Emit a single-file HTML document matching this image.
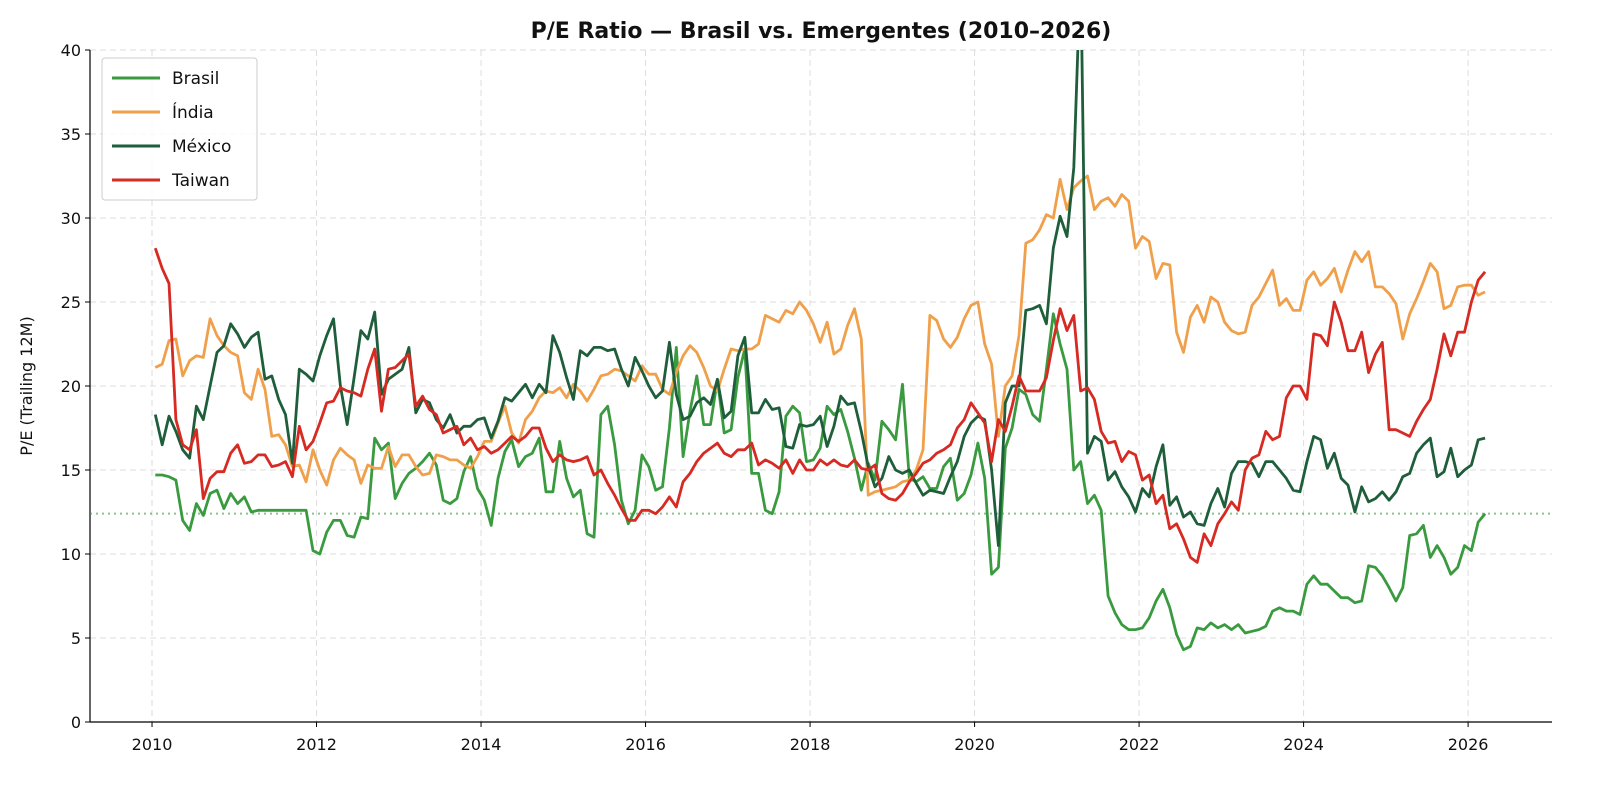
<!DOCTYPE html>
<html><head><meta charset="utf-8"><style>
body{margin:0;background:#fff;font-family:"Liberation Sans","DejaVu Sans",sans-serif}
svg text{font-family:"DejaVu Sans","Liberation Sans",sans-serif}
</style></head><body>
<svg id="chart" width="1600" height="792" xmlns="http://www.w3.org/2000/svg">
<defs><clipPath id="plotclip"><rect x="90" y="50" width="1462" height="672"/></clipPath></defs>
<text x="821" y="38" text-anchor="middle" font-size="22" font-weight="bold" fill="#111">P/E Ratio — Brasil vs. Emergentes (2010–2026)</text>
<text transform="translate(32,386) rotate(-90)" text-anchor="middle" font-size="16" fill="#111">P/E (Trailing 12M)</text>
<g id="grid"></g><g id="axes"></g><g id="series" clip-path="url(#plotclip)"></g>
<g>
<rect x="102" y="58" width="155" height="142" rx="3" fill="#fff" fill-opacity="0.85" stroke="#ccc"/>
<g><line x1="112" y1="78" x2="160" y2="78" stroke="#3a9a3f" stroke-width="3"/><text x="172" y="84" font-size="17" fill="#111">Brasil</text></g>
<g><line x1="112" y1="112" x2="160" y2="112" stroke="#f0a04b" stroke-width="3"/><text x="172" y="118" font-size="17" fill="#111">Índia</text></g>
<g><line x1="112" y1="146" x2="160" y2="146" stroke="#1e5e3b" stroke-width="3"/><text x="172" y="152" font-size="17" fill="#111">México</text></g>
<g><line x1="112" y1="180" x2="160" y2="180" stroke="#d62a22" stroke-width="3"/><text x="172" y="186" font-size="17" fill="#111">Taiwan</text></g>
</g>
</svg>
<script>
const startYear = 2010.04;
const xTicks = [2010,2012,2014,2016,2018,2020,2022,2024,2026];
const yTicks = [0,5,10,15,20,25,30,35,40];
const brasilRef = [12.4];
const brasil = [14.7,14.7,14.6,14.4,12,11.4,13,12.3,13.6,13.8,12.7,13.6,
13,13.4,12.5,12.6,12.6,12.6,12.6,12.6,12.6,12.6,12.6,10.2,
10,11.3,12,12,11.1,11,12.2,12.1,16.9,16.2,16.6,13.3,
14.2,14.8,15.1,15.5,16,15.3,13.2,13,13.3,14.9,15.8,13.9,
13.2,11.7,14.5,16.1,16.8,15.2,15.8,16,16.9,13.7,13.7,16.7,
14.5,13.4,13.8,11.2,11,18.3,18.8,16.5,13.2,11.8,12.6,15.9,
15.2,13.8,14,17.5,22.3,15.8,18.5,20.6,17.7,17.7,20.4,17.2,
17.4,20.5,22.2,14.8,14.8,12.6,12.4,13.7,18.2,18.8,18.4,15.5,
15.6,16.3,18.8,18.3,18.6,17.3,15.7,13.8,15.4,14.4,17.9,17.4,
16.8,20.1,14.5,14.3,14.6,13.9,13.9,15.2,15.7,13.2,13.6,14.7,
16.6,14.5,8.8,9.2,16.3,17.5,19.8,19.5,18.3,17.9,21,24.3,
22.5,21,15,15.5,13,13.5,12.6,7.5,6.5,5.8,5.5,5.5,
5.6,6.2,7.2,7.9,6.8,5.2,4.3,4.5,5.6,5.5,5.9,5.6,
5.8,5.5,5.8,5.3,5.4,5.5,5.7,6.6,6.8,6.6,6.6,6.4,
8.2,8.7,8.2,8.2,7.8,7.4,7.4,7.1,7.2,9.3,9.2,8.7,
8,7.2,8,11.1,11.2,11.7,9.8,10.5,9.8,8.8,9.2,10.5,
10.2,11.9,12.4];
const india = [21.1,21.3,22.7,22.8,20.6,21.5,21.8,21.7,24,23,22.4,22,
21.8,19.6,19.2,21,19.8,17,17.1,16.5,15.2,15.3,14.3,16.2,
15,14.1,15.6,16.3,15.9,15.6,14.2,15.3,15.1,15.1,16.4,15.2,
15.9,15.9,15.2,14.7,14.8,15.9,15.8,15.6,15.6,15.3,15.1,15.8,
16.7,16.7,17.8,18.8,17.2,16.6,18,18.5,19.3,19.7,19.6,19.9,
19.3,20.1,19.7,19.1,19.8,20.6,20.7,21,20.9,20.6,20.3,21.2,
20.7,20.7,19.8,19.5,20.8,21.8,22.4,22,21.1,20,19.7,21,
22.2,22.1,22.2,22.2,22.5,24.2,24,23.8,24.5,24.3,25,24.5,
23.7,22.6,23.8,21.9,22.2,23.6,24.6,22.8,13.5,13.7,13.8,13.9,
14,14.3,14.4,15,16.2,24.2,23.9,22.8,22.3,22.9,24,24.8,
25,22.5,21.3,17,20,20.6,23,28.5,28.7,29.3,30.2,30,
32.3,30.5,31.8,32.2,32.5,30.5,31,31.2,30.7,31.4,31,28.2,
28.9,28.6,26.4,27.3,27.2,23.2,22,24.1,24.8,23.8,25.3,25,
23.8,23.3,23.1,23.2,24.8,25.3,26.1,26.9,24.8,25.2,24.5,24.5,
26.3,26.8,26,26.4,27,25.6,26.9,28,27.4,28,25.9,25.9,
25.5,24.9,22.8,24.3,25.2,26.2,27.3,26.8,24.6,24.8,25.9,26,
26,25.4,25.6];
const mexico = [18.3,16.5,18.2,17.3,16.2,15.7,18.8,18,20,22,22.4,23.7,
23.1,22.3,22.9,23.2,20.4,20.6,19.2,18.3,15.4,21,20.7,20.3,
21.8,23,24,20,17.7,20.5,23.3,22.8,24.4,19.5,20.4,20.7,
21,22.3,18.4,19.2,19,18,17.5,18.3,17.2,17.6,17.6,18,
18.1,16.9,17.9,19.3,19.1,19.6,20.1,19.3,20.1,19.6,23,22,
20.5,19.2,22.1,21.8,22.3,22.3,22.1,22.2,21,20,21.7,20.9,
20,19.3,19.7,22.6,19.5,18,18.2,19,19.3,18.9,20.4,18.1,
18.5,21.8,22.9,18.4,18.4,19.2,18.6,18.7,16.4,16.3,17.7,17.6,
17.7,18.2,16.4,17.6,19.4,18.9,19,17.3,15.2,14,14.5,15.8,
15,14.8,15,14.2,13.5,13.8,13.7,13.6,14.6,15.5,17,17.8,
18.2,18,15,10.5,19,20,20,24.5,24.6,24.8,23.7,28.2,
30.1,28.9,33,45,16,17,16.7,14.4,14.9,14,13.4,12.5,
13.9,13.4,15.2,16.5,12.9,13.4,12.2,12.5,11.8,11.7,13,13.9,
12.8,14.8,15.5,15.5,15.4,14.6,15.5,15.5,15,14.5,13.8,13.7,
15.5,17,16.8,15.1,16,14.5,14.1,12.5,14,13.1,13.3,13.7,
13.2,13.7,14.6,14.8,16,16.5,16.9,14.6,14.9,16.3,14.6,15,
15.3,16.8,16.9];
const taiwan = [28.2,27,26.1,18,16.5,16.2,17.4,13.3,14.5,14.9,14.9,16,
16.5,15.4,15.5,15.9,15.9,15.2,15.3,15.5,14.6,17.6,16.2,16.7,
17.8,19,19.1,19.9,19.7,19.6,19.4,21,22.2,18.5,21,21.1,
21.5,21.9,18.8,19.4,18.6,18.3,17.2,17.4,17.6,16.5,16.9,16.2,
16.4,16,16.2,16.6,17,16.7,17,17.5,17.5,16.3,15.5,15.9,
15.6,15.5,15.6,15.8,14.7,15,14.2,13.5,12.7,12,12,12.6,
12.6,12.4,12.8,13.4,12.8,14.3,14.8,15.5,16,16.3,16.6,16,
15.8,16.2,16.2,16.6,15.3,15.6,15.4,15.1,15.6,14.8,15.6,15,
15,15.6,15.3,15.6,15.3,15.2,15.6,15.1,15,15.3,13.6,13.3,
13.2,13.6,14.3,14.8,15.4,15.6,16,16.2,16.5,17.5,18,19,
18.4,17.8,15.5,18,17.3,18.8,20.6,19.7,19.7,19.7,20.5,22.7,
24.6,23.3,24.2,19.7,19.9,19.2,17.3,16.6,16.7,15.5,16.1,15.9,
14.4,14.7,13,13.5,11.5,11.8,10.9,9.8,9.5,11.2,10.5,11.8,
12.4,13.1,12.6,15,15.7,15.9,17.3,16.8,17,19.3,20,20,
19.2,23.1,23,22.4,25,23.8,22.1,22.1,23.2,20.8,21.9,22.6,
17.4,17.4,17.2,17,17.9,18.6,19.2,21,23.1,21.8,23.2,23.2,
25,26.3,26.8];

const NS='http://www.w3.org/2000/svg';
const X0=90,X1=1552,Y0=722,Y1=50;
const xMin=2009.246,xMax=2027.02,yMin=0,yMax=40;
function xs(t){return X0+(t-xMin)/(xMax-xMin)*(X1-X0);}
function ys(v){return Y0-(v-yMin)/(yMax-yMin)*(Y0-Y1);}
function mk(tag,attrs,parent){const e=document.createElementNS(NS,tag);for(const k in attrs)e.setAttribute(k,attrs[k]);parent.appendChild(e);return e;}
const grid=document.getElementById('grid'),axes=document.getElementById('axes'),ser=document.getElementById('series');

yTicks.forEach(v=>{
  const y=ys(v);
  const g=mk('line',{x1:X0,x2:X1,y1:y,y2:y,stroke:'#ddd','stroke-dasharray':'6,4','stroke-width':1},grid);
  
  
  mk('line',{x1:X0-5,x2:X0,y1:y,y2:y,stroke:'#000'},axes);
  const t=mk('text',{x:X0-9,y:y+6,'text-anchor':'end','font-size':16,fill:'#111'},axes);
  t.textContent=v;
  
  
});
xTicks.forEach(v=>{
  const x=xs(v);
  const g=mk('line',{x1:x,x2:x,y1:Y1,y2:Y0,stroke:'#ddd','stroke-dasharray':'6,4','stroke-width':1},grid);
  
  
  mk('line',{x1:x,x2:x,y1:Y0,y2:Y0+5,stroke:'#000'},axes);
  const t=mk('text',{x:x,y:Y0+28,'text-anchor':'middle','font-size':16,fill:'#111'},axes);
  t.textContent=v;
  
  
});
const la=mk('line',{x1:X0,x2:X0,y1:Y1,y2:Y0,stroke:'#000','stroke-width':1.2},axes);


const lb=mk('line',{x1:X0,x2:X1,y1:Y0,y2:Y0,stroke:'#000','stroke-width':1.2},axes);



const ref=mk('line',{x1:X0,x2:X1,y1:ys(brasilRef[0]),y2:ys(brasilRef[0]),stroke:'#3a9a3f','stroke-opacity':0.6,'stroke-dasharray':'2,4','stroke-width':2},ser);



function draw(data,color,name){
  const pts=data.map((v,i)=>xs(startYear+i/12).toFixed(1)+','+ys(v).toFixed(1)).join(' ');
  const p=mk('polyline',{points:pts,fill:'none',stroke:color,'stroke-width':2.8,'stroke-linejoin':'round'},ser);
  
  
}
draw(brasil,'#3a9a3f','brasil-line');
draw(india,'#f0a04b','india-line');
draw(mexico,'#1e5e3b','mexico-line');
draw(taiwan,'#d62a22','taiwan-line');
</script>
</body></html>
